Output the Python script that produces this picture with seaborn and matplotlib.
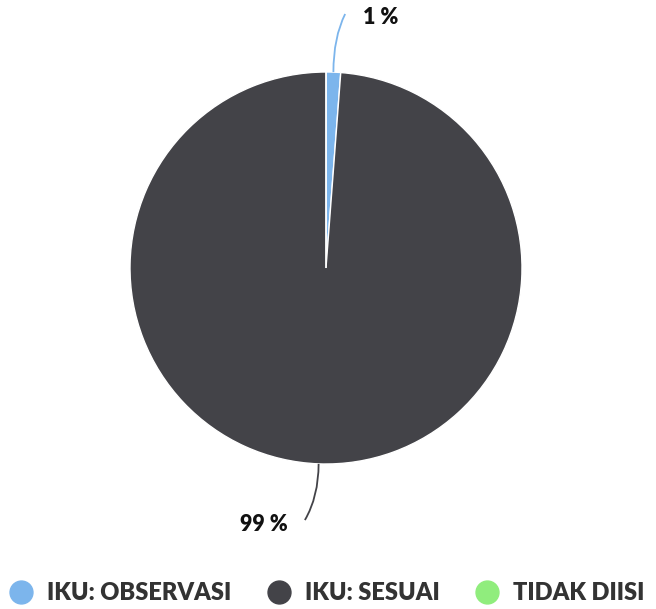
import numpy as np
import seaborn as sns
import matplotlib.pyplot as plt
from matplotlib.path import Path
from matplotlib.patches import PathPatch
from matplotlib.lines import Line2D

categories = ["IKU: OBSERVASI", "IKU: SESUAI", "TIDAK DIISI"]
values = [1.2, 98.8, 0.0]
labels = ["1 %", "99 %", ""]
colors = ["#7cb5ec", "#434348", "#90ed7d"]

sns.set_style("white")
plt.rcParams['font.family'] = ['Lato', 'DejaVu Sans']

W, H = 656, 609
fig = plt.figure(figsize=(W / 100, H / 100), dpi=100)
cx, cy, r = 326, 268, 196
ax = fig.add_axes([(cx - r) / W, (H - cy - r) / H, 2 * r / W, 2 * r / H])

wedges, _ = ax.pie(values, colors=colors, startangle=90, counterclock=False,
                   wedgeprops=dict(edgecolor="white", linewidth=1))
ax.set_xlim(-1, 1)
ax.set_ylim(-1, 1)
ax.set_aspect("equal")

# data labels with curved connectors
tot = sum(values)
start = 90.0
for v, lab, col in zip(values, labels, colors):
    mid = start - v / tot * 180
    start -= v / tot * 360
    if not lab:
        continue
    a = np.deg2rad(mid)
    x0, y0 = np.cos(a), np.sin(a)
    if y0 > 0:
        xend, yend = x0 + 0.06, 1.296
        ctrl = (x0, yend - 0.12)
    else:
        xend, yend = x0 - 0.07, -1.286
        ctrl = (x0, yend + 0.12)
    p = Path([(x0, y0), ctrl, (xend, yend)], [Path.MOVETO, Path.CURVE3, Path.CURVE3])
    ax.add_patch(PathPatch(p, fill=False, edgecolor=col, lw=1.3, clip_on=False))
    if y0 > 0:
        ax.text(xend + 0.09, 1.276, lab, ha="left", va="center",
                fontsize=15.5, fontweight="heavy", color="#111111", clip_on=False)
    else:
        ax.text(xend - 0.09, -1.311, lab, ha="right", va="center",
                fontsize=15.5, fontweight="heavy", color="#111111", clip_on=False)

handles = [Line2D([], [], marker="o", linestyle="", markersize=16.5,
                  markerfacecolor=c, markeredgecolor=c) for c in colors]
leg = fig.legend(handles, categories, loc="center", bbox_to_anchor=(0.498, 1 - 593 / H),
                 ncol=3, frameon=False, handlelength=1.0, handletextpad=0.6,
                 columnspacing=1.5, prop=dict(size=17, weight="heavy"))
for t in leg.get_texts():
    t.set_color("#333333")

fig.savefig("out.png", dpi=100)
